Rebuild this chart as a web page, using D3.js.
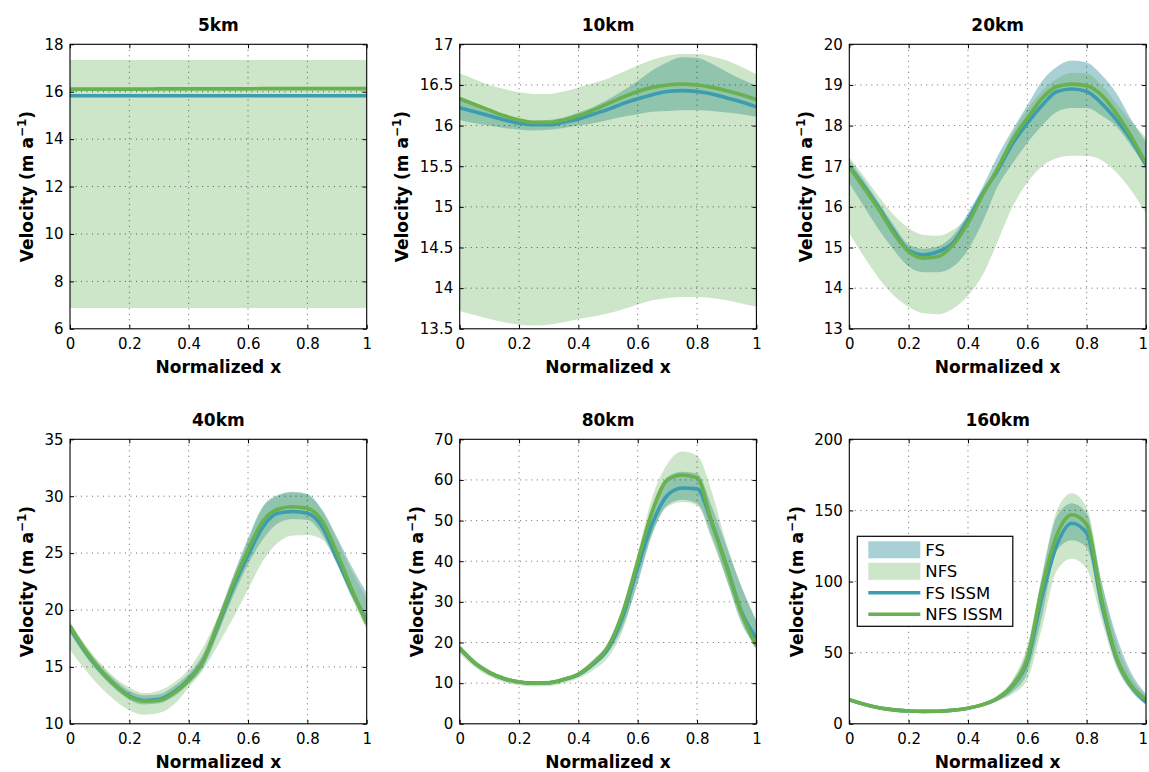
<!DOCTYPE html>
<html><head><meta charset="utf-8">
<script src="https://cdn.jsdelivr.net/npm/d3@7"></script>
<style>
body{margin:0;background:#fff}
svg{display:block}
text{font-family:"DejaVu Sans",Verdana,sans-serif;fill:#000}
</style>
</head><body>
<svg id="c" width="1149" height="772"></svg>
<script>
// ---------- data ----------
const xNorm = [0,0.05,0.1,0.15,0.2,0.25,0.3,0.35,0.4,0.45,0.5,0.55,0.6,0.65,0.7,0.75,0.8,0.85,0.9,0.95,1];
const xTicks = [0,0.2,0.4,0.6,0.8,1];
const seriesNames = ["FS","NFS","FS ISSM","NFS ISSM"];

// 5 km
const km5_fsLo   = [15.78,15.78,15.78,15.78,15.78,15.78,15.78,15.78,15.78,15.78,15.78,15.78,15.78,15.78,15.78,15.78,15.78,15.78,15.78,15.78,15.78];
const km5_fsHi   = [15.9,15.9,15.9,15.9,15.9,15.9,15.9,15.9,15.9,15.9,15.9,15.9,15.9,15.9,15.9,15.9,15.9,15.9,15.9,15.9,15.9];
const km5_nfsLo  = [6.88,6.88,6.88,6.88,6.88,6.88,6.88,6.88,6.88,6.88,6.88,6.88,6.88,6.88,6.88,6.88,6.88,6.88,6.88,6.88,6.88];
const km5_nfsHi  = [17.34,17.34,17.34,17.34,17.34,17.34,17.34,17.34,17.34,17.34,17.34,17.34,17.34,17.34,17.34,17.34,17.34,17.34,17.34,17.34,17.34];
const km5_fsLine = [15.83,15.83,15.83,15.83,15.83,15.83,15.83,15.83,15.83,15.83,15.83,15.83,15.83,15.83,15.83,15.83,15.83,15.83,15.83,15.83,15.83];
const km5_nfsLine= [16.11,16.11,16.11,16.11,16.11,16.11,16.12,16.12,16.12,16.12,16.12,16.12,16.12,16.13,16.13,16.13,16.13,16.13,16.13,16.13,16.13];

// 10 km
const km10_fsLo   = [16.07,16.03,16.0,15.97,15.95,15.94,15.95,15.97,16.0,16.03,16.07,16.11,16.14,16.17,16.18,16.19,16.19,16.18,16.16,16.14,16.11];
const km10_fsHi   = [16.36,16.28,16.2,16.13,16.08,16.06,16.07,16.1,16.16,16.23,16.32,16.43,16.55,16.68,16.78,16.84,16.83,16.76,16.66,16.57,16.49];
const km10_nfsLo  = [13.72,13.67,13.62,13.58,13.55,13.54,13.55,13.58,13.62,13.65,13.69,13.74,13.8,13.85,13.88,13.89,13.89,13.88,13.85,13.81,13.77];
const km10_nfsHi  = [16.64,16.57,16.5,16.45,16.41,16.39,16.39,16.42,16.47,16.52,16.58,16.66,16.74,16.81,16.86,16.88,16.88,16.85,16.8,16.72,16.63];
const km10_fsLine = [16.22,16.17,16.12,16.07,16.03,16.01,16.01,16.04,16.08,16.14,16.2,16.27,16.33,16.38,16.42,16.43,16.42,16.39,16.34,16.29,16.23];
const km10_nfsLine= [16.33,16.26,16.19,16.12,16.07,16.04,16.04,16.07,16.12,16.19,16.27,16.35,16.42,16.47,16.5,16.51,16.5,16.47,16.43,16.38,16.32];

// 20 km
const km20_fsLo   = [16.58,16.0,15.43,14.94,14.53,14.39,14.39,14.53,14.94,15.64,16.5,17.07,17.57,18.0,18.34,18.43,18.43,18.25,17.98,17.5,16.95];
const km20_fsHi   = [17.15,16.65,16.1,15.55,15.08,14.97,15.03,15.3,15.85,16.5,17.25,17.9,18.5,19.1,19.45,19.6,19.55,19.25,18.8,18.15,17.6];
const km20_nfsLo  = [15.35,14.77,14.24,13.82,13.54,13.38,13.36,13.5,13.82,14.33,15.15,16.0,16.6,17.0,17.2,17.26,17.25,17.15,16.85,16.4,15.84];
const km20_nfsHi  = [17.22,16.75,16.25,15.8,15.48,15.31,15.29,15.44,15.76,16.34,17.0,17.8,18.4,18.85,19.15,19.3,19.28,19.0,18.55,18.1,17.7];
const km20_fsLine = [16.99,16.5,15.97,15.4,14.93,14.82,14.9,15.12,15.68,16.34,16.9,17.55,18.06,18.5,18.84,18.9,18.84,18.55,18.14,17.65,17.03];
const km20_nfsLine= [16.97,16.46,15.93,15.35,14.9,14.74,14.78,15.07,15.6,16.3,16.95,17.65,18.18,18.67,18.96,19.02,18.98,18.75,18.3,17.73,17.07];

// 40 km
const km40_fsLo   = [18.0,16.0,14.4,13.1,12.1,11.7,11.8,12.4,13.5,15.0,18.0,21.2,24.0,26.2,27.6,28.0,27.9,26.6,24.1,21.2,18.5];
const km40_fsHi   = [18.9,16.9,15.2,13.9,12.9,12.5,12.6,13.3,14.4,16.2,19.5,23.0,26.3,29.1,30.1,30.4,30.2,28.8,26.4,23.8,21.5];
const km40_nfsLo  = [16.5,14.8,13.3,12.1,11.2,10.8,10.95,11.7,13.2,14.8,17.0,19.3,21.8,24.3,25.9,26.55,26.6,26.2,24.0,21.0,18.3];
const km40_nfsHi  = [18.9,17.0,15.4,14.1,13.2,12.7,12.9,13.6,14.8,16.8,19.5,22.9,26.1,29.0,30.0,30.3,30.1,28.7,26.2,23.4,21.0];
const km40_fsLine = [18.4,16.4,14.75,13.45,12.45,12.05,12.15,12.8,13.9,15.6,18.7,22.0,24.8,27.3,28.5,28.65,28.5,27.3,24.5,21.6,19.1];
const km40_nfsLine= [18.6,16.5,14.8,13.45,12.4,12.0,12.05,12.7,13.8,15.6,18.9,22.3,25.3,27.8,28.85,29.07,28.93,27.8,25.0,21.8,18.8];

// 80 km
const km80_fsLo   = [18.0,14.5,12.1,10.7,9.9,9.6,9.7,10.5,11.7,14.2,17.5,24.0,34.6,46.9,53.8,55.1,54.2,46.0,35.4,24.7,19.0];
const km80_fsHi   = [19.2,15.5,13.1,11.6,10.7,10.4,10.5,11.3,12.7,15.6,19.8,28.5,41.0,53.0,60.8,62.0,61.6,53.4,43.6,33.7,25.5];
const km80_nfsLo  = [17.3,14.0,11.7,10.2,9.5,9.2,9.3,10.0,11.2,13.2,16.3,23.1,35.4,46.9,53.4,54.6,53.8,45.2,35.4,25.5,18.2];
const km80_nfsHi  = [19.3,15.8,13.3,11.7,10.8,10.5,10.6,11.4,12.8,15.8,20.0,29.0,42.0,56.0,64.0,67.0,66.0,57.0,44.0,33.5,25.0];
const km80_fsLine = [18.5,15.0,12.6,11.1,10.3,10.0,10.1,10.9,12.1,14.7,18.5,26.5,38.5,49.4,56.2,58.0,57.8,49.4,38.7,27.5,21.0];
const km80_nfsLine= [18.7,15.0,12.6,11.1,10.3,10.0,10.1,10.9,12.2,15.0,19.0,27.5,40.0,52.5,60.0,61.2,60.5,49.5,38.5,27.2,19.1];

// 160 km
const km160_fsLo   = [16.5,13.4,10.9,9.5,8.7,8.4,8.5,9.3,10.6,12.8,16.5,22.5,36.0,76,122,129,124,78,42,23,14];
const km160_fsHi   = [17.6,14.3,11.8,10.2,9.4,9.1,9.2,10.0,11.6,14.4,19.5,30.0,52.0,104,146,155,148,100,62,36,21];
const km160_nfsLo  = [16.0,13.0,10.6,9.2,8.4,8.1,8.2,9.0,10.2,12.4,16.0,21.0,31.0,68,108,116,109,73,40,24,15];
const km160_nfsHi  = [18.0,14.6,12.0,10.4,9.5,9.2,9.3,10.2,11.8,14.8,20.0,31.0,55.0,105,150,162,152,100,58,33,20];
const km160_fsLine = [17.0,13.8,11.3,9.8,9.0,8.7,8.8,9.6,11.0,13.5,17.8,26.5,44.0,90,126,141,134,85,46,26.5,15];
const km160_nfsLine= [17.0,13.8,11.3,9.8,9.0,8.7,8.8,9.6,11.0,13.5,18.0,27.0,46.0,96,133,147,140,88,47,27,17];

const yTicks5   = [6,8,10,12,14,16,18];
const yTicks10  = [13.5,14,14.5,15,15.5,16,16.5,17];
const yTicks20  = [13,14,15,16,17,18,19,20];
const yTicks40  = [10,15,20,25,30,35];
const yTicks80  = [0,10,20,30,40,50,60,70];
const yTicks160 = [0,50,100,150,200];

const panels = [
  {title:"5km",   ticks:yTicks5,   fsLo:km5_fsLo,   fsHi:km5_fsHi,   nfsLo:km5_nfsLo,   nfsHi:km5_nfsHi,   fsLine:km5_fsLine,   nfsLine:km5_nfsLine},
  {title:"10km",  ticks:yTicks10,  fsLo:km10_fsLo,  fsHi:km10_fsHi,  nfsLo:km10_nfsLo,  nfsHi:km10_nfsHi,  fsLine:km10_fsLine,  nfsLine:km10_nfsLine},
  {title:"20km",  ticks:yTicks20,  fsLo:km20_fsLo,  fsHi:km20_fsHi,  nfsLo:km20_nfsLo,  nfsHi:km20_nfsHi,  fsLine:km20_fsLine,  nfsLine:km20_nfsLine},
  {title:"40km",  ticks:yTicks40,  fsLo:km40_fsLo,  fsHi:km40_fsHi,  nfsLo:km40_nfsLo,  nfsHi:km40_nfsHi,  fsLine:km40_fsLine,  nfsLine:km40_nfsLine},
  {title:"80km",  ticks:yTicks80,  fsLo:km80_fsLo,  fsHi:km80_fsHi,  nfsLo:km80_nfsLo,  nfsHi:km80_nfsHi,  fsLine:km80_fsLine,  nfsLine:km80_nfsLine},
  {title:"160km", ticks:yTicks160, fsLo:km160_fsLo, fsHi:km160_fsHi, nfsLo:km160_nfsLo, nfsHi:km160_nfsHi, fsLine:km160_fsLine, nfsLine:km160_nfsLine}
];

// ---------- style / layout ----------
const FONT = '"DejaVu Sans",Verdana,sans-serif';
const FS_FILL = "#a9d0d5";
const NFS_FILL = "rgb(94,171,81)";
const NFS_ALPHA = 0.31;
const NFS_FILL_SOLID = "#cde5c9";
const FS_LINE = "#3b9dad";
const NFS_LINE = "#69b04e";
const W = 296.7, H = 284.5;
const colX = [70, 459.7, 849.3];
const rowY = [44.3, 439.3];
const SVG_W = 1149;

const svg = d3.select("#c");

panels.forEach((p, i) => {
  const left = colX[i % 3], top = rowY[Math.floor(i / 3)];
  const g = svg.append("g").attr("transform", `translate(${left},${top})`);
  const x = d3.scaleLinear().domain([0, 1]).range([0, W]);
  const y = d3.scaleLinear().domain(d3.extent(p.ticks)).range([H, 0]);

  const clipId = "clip" + i;
  g.append("clipPath").attr("id", clipId).append("rect").attr("width", W).attr("height", H);
  const plot = g.append("g").attr("clip-path", `url(#${clipId})`);

  const area = (lo, hi) => d3.area()
    .x((d, j) => x(xNorm[j])).y0((d, j) => y(lo[j])).y1((d, j) => y(hi[j]))
    .curve(d3.curveMonotoneX)(lo);
  const line = (v) => d3.line().x((d, j) => x(xNorm[j])).y(d => y(d)).curve(d3.curveMonotoneX)(v);

  plot.append("path").attr("d", area(p.fsLo, p.fsHi)).attr("fill", FS_FILL);
  plot.append("path").attr("d", area(p.nfsLo, p.nfsHi)).attr("fill", NFS_FILL).attr("fill-opacity", NFS_ALPHA);

  // grid (dotted)
  const grid = plot.append("g").attr("stroke", "#000").attr("stroke-width", 1)
    .attr("stroke-dasharray", "1,4.5").attr("stroke-opacity", 0.6);
  xTicks.slice(1, -1).forEach(t => grid.append("line").attr("x1", x(t)).attr("x2", x(t)).attr("y1", 0).attr("y2", H));
  p.ticks.slice(1, -1).forEach(t => grid.append("line").attr("x1", 0).attr("x2", W).attr("y1", y(t)).attr("y2", y(t)));

  plot.append("path").attr("d", line(p.fsLine)).attr("fill", "none").attr("stroke", FS_LINE).attr("stroke-width", 3.6);
  plot.append("path").attr("d", line(p.nfsLine)).attr("fill", "none").attr("stroke", NFS_LINE).attr("stroke-width", 3.6);

  // axes
  const fmt = d3.format("~g");
  const xb = g.append("g").attr("transform", `translate(0,${H})`)
    .call(d3.axisBottom(x).tickValues(xTicks).tickFormat(fmt).tickSizeInner(-4).tickSizeOuter(0).tickPadding(10));
  const yl = g.append("g")
    .call(d3.axisLeft(y).tickValues(p.ticks).tickFormat(fmt).tickSizeInner(-4).tickSizeOuter(0).tickPadding(6.5));
  const xt = g.append("g").call(d3.axisTop(x).tickValues(xTicks).tickFormat("").tickSizeInner(-4).tickSizeOuter(0));
  const yr = g.append("g").attr("transform", `translate(${W},0)`)
    .call(d3.axisRight(y).tickValues(p.ticks).tickFormat("").tickSizeInner(-4).tickSizeOuter(0));
  [xb, yl, xt, yr].forEach(a => {
    a.attr("font-family", FONT).attr("font-size", 15);
    a.select(".domain").remove();
    a.selectAll("line").attr("stroke", "#000").attr("stroke-width", 1);
    a.selectAll("text").attr("font-size", 15).attr("font-family", FONT).attr("fill", "#000");
  });
  // keep the last x tick label inside the picture
  xb.selectAll("text").each(function () {
    const b = this.getBBox();
    const tr = this.parentNode.getAttribute("transform");
    const tx = +tr.match(/translate\(([-\d.]+)/)[1];
    const absRight = left + tx + b.x + b.width;
    if (absRight > SVG_W - 1) d3.select(this).attr("x", (SVG_W - 1) - absRight);
  });
  g.append("rect").attr("width", W).attr("height", H).attr("fill", "none").attr("stroke", "#000").attr("stroke-width", 1.1);

  // title
  g.append("text").attr("x", W / 2).attr("y", -13).attr("text-anchor", "middle")
    .attr("font-size", 17).attr("font-weight", "bold").text(p.title);
  // x label
  g.append("text").attr("x", W / 2).attr("y", H + 44).attr("text-anchor", "middle")
    .attr("font-size", 17).attr("font-weight", "bold").text("Normalized x");
  // y label
  let maxW = 0;
  yl.selectAll("text").each(function () { maxW = Math.max(maxW, this.getBBox().width); });
  const off = maxW + 24;
  const yt = g.append("text").attr("transform", `translate(${-off + 6},${H / 2}) rotate(-90)`)
    .attr("text-anchor", "middle").attr("font-size", 17).attr("font-weight", "bold");
  yt.append("tspan").text("Velocity (m a");
  yt.append("tspan").attr("dy", -7).attr("font-size", 12).text("\u22121");
  yt.append("tspan").attr("dy", 7).text(")");

  // legend in last panel
  if (i === 5) {
    const lg = g.append("g").attr("transform", "translate(8,97)");
    lg.append("rect").attr("width", 155.5).attr("height", 90).attr("fill", "#fff").attr("stroke", "#000").attr("stroke-width", 1.2);
    const rowH = 21.5, y0 = 13.5;
    const kinds = [
      {type: "patch", color: FS_FILL},
      {type: "patch", color: NFS_FILL_SOLID},
      {type: "line", color: FS_LINE},
      {type: "line", color: NFS_LINE}
    ];
    seriesNames.forEach((name, k) => {
      const cy = y0 + k * rowH;
      if (kinds[k].type === "patch") {
        lg.append("rect").attr("x", 11).attr("y", cy - 8.5).attr("width", 52).attr("height", 17).attr("fill", kinds[k].color);
      } else {
        lg.append("line").attr("x1", 11).attr("x2", 63).attr("y1", cy).attr("y2", cy)
          .attr("stroke", kinds[k].color).attr("stroke-width", 3.4);
      }
      lg.append("text").attr("x", 68).attr("y", cy + 6).attr("font-size", 16.5).text(name);
    });
  }
});
</script>
</body></html>
